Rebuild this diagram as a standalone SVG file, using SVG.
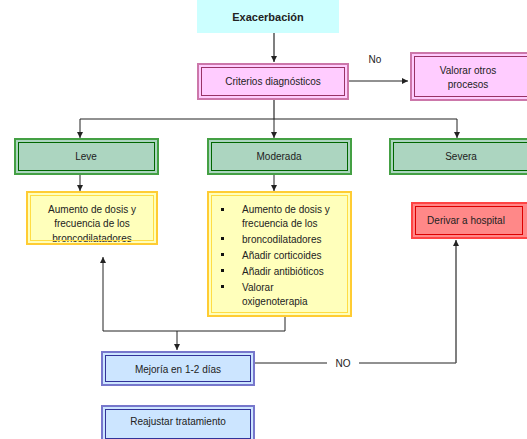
<svg xmlns="http://www.w3.org/2000/svg" width="527" height="439" viewBox="0 0 527 439">
<style>
text{font-family:"Liberation Sans",Arial,sans-serif;font-size:10px;fill:#222;}
.c{text-anchor:middle;}
.ln{fill:none;stroke:#222;stroke-width:1;}
.gl{fill:none;stroke:#555;stroke-width:1.5;}
.pinkO{fill:#ffccff;stroke:#cc77aa;stroke-width:2;}
.pinkI{fill:none;stroke:#993366;stroke-width:1;}
.grnO{fill:#acd5c0;stroke:#44a044;stroke-width:2;}
.grnI{fill:none;stroke:#006600;stroke-width:1;}
.yelO{fill:#ffffbb;stroke:#ffcc33;stroke-width:2;}
.yelI{fill:none;stroke:#ffdd44;stroke-width:1;}
.redO{fill:#ff8888;stroke:#ff4444;stroke-width:2;}
.redI{fill:none;stroke:#dd0000;stroke-width:1;}
.bluO{fill:#cce5ff;stroke:#7777cc;stroke-width:2;}
.bluI{fill:none;stroke:#333399;stroke-width:1;}
</style>
<defs>
<marker id="ah" viewBox="0 0 8 8" refX="8" refY="4" markerWidth="6" markerHeight="6" markerUnits="userSpaceOnUse" orient="auto">
<path d="M0,0 L8,4 L0,8 z" fill="#222"/>
</marker>
<clipPath id="clipLeve"><rect x="30" y="195" width="124" height="47"/></clipPath>
</defs>
<g id="connectors">
<line class="gl" x1="274" y1="33" x2="274" y2="62" marker-end="url(#ah)"/>
<line class="ln" x1="348" y1="81" x2="408" y2="81" marker-end="url(#ah)"/>
<text x="375" y="63" class="c">No</text>
<line class="gl" x1="274" y1="99" x2="274" y2="119"/>
<line class="ln" x1="80" y1="119" x2="457" y2="119"/>
<line class="ln" x1="80" y1="119" x2="80" y2="138" marker-end="url(#ah)"/>
<line class="ln" x1="274" y1="119" x2="274" y2="138" marker-end="url(#ah)"/>
<line class="ln" x1="457" y1="119" x2="457" y2="138" marker-end="url(#ah)"/>
<line class="ln" x1="80" y1="174" x2="80" y2="191" marker-end="url(#ah)"/>
<line class="ln" x1="274" y1="174" x2="274" y2="191" marker-end="url(#ah)"/>
<polyline class="ln" points="285,316 285,331 103,331 103,257" marker-end="url(#ah)"/>
<line class="ln" x1="177" y1="331" x2="177" y2="350" marker-end="url(#ah)"/>
<line class="ln" x1="254" y1="363" x2="327" y2="363"/>
<text x="343" y="367" class="c">NO</text>
<line class="ln" x1="359" y1="363" x2="456" y2="363"/>
<line class="gl" x1="456" y1="363" x2="456" y2="240" marker-end="url(#ah)"/>
</g>
<g id="exacerbacion">
<rect x="197" y="0" width="142" height="33" fill="#ccffff"/>
<text x="268" y="21" class="c" style="font-weight:bold;font-size:11px">Exacerbación</text>
</g>
<g id="criterios">
<rect class="pinkO" x="198" y="64" width="150" height="35"/>
<rect class="pinkI" x="201.5" y="67.5" width="143" height="28"/>
<text x="273" y="85" class="c">Criterios diagnósticos</text>
</g>
<g id="valorar">
<rect class="pinkO" x="411" y="53" width="120" height="47"/>
<rect class="pinkI" x="414.5" y="56.5" width="113" height="40"/>
<text x="468" y="74" class="c">Valorar otros</text>
<text x="468" y="88" class="c">procesos</text>
</g>
<g id="leve">
<rect class="grnO" x="15" y="139" width="143" height="35"/>
<rect class="grnI" x="18.5" y="142.5" width="136" height="28"/>
<text x="86" y="160" class="c">Leve</text>
</g>
<g id="moderada">
<rect class="grnO" x="208" y="139" width="143" height="35"/>
<rect class="grnI" x="211.5" y="142.5" width="136" height="28"/>
<text x="279" y="160" class="c">Moderada</text>
</g>
<g id="severa">
<rect class="grnO" x="390" y="139" width="142" height="35"/>
<rect class="grnI" x="393.5" y="142.5" width="135" height="28"/>
<text x="461" y="160" class="c">Severa</text>
</g>
<g id="leve-tratamiento">
<rect class="yelO" x="27" y="192" width="130" height="52"/>
<g clip-path="url(#clipLeve)">
<text x="92" y="213" class="c">Aumento de dosis y</text>
<text x="92" y="227" class="c">frecuencia de los</text>
<text x="92" y="242" class="c">broncodilatadores</text>
</g>
<rect class="yelI" x="30.5" y="195.5" width="123" height="45"/>
</g>
<g id="moderada-tratamiento">
<rect class="yelO" x="208" y="192" width="143" height="124"/>
<rect class="yelI" x="211.5" y="195.5" width="136" height="117"/>
<g fill="#111">
<rect x="221" y="208" width="3" height="3"/>
<rect x="221" y="237" width="3" height="3"/>
<rect x="221" y="253" width="3" height="3"/>
<rect x="221" y="269" width="3" height="3"/>
<rect x="221" y="285" width="3" height="3"/>
</g>
<text x="242" y="213">Aumento de dosis y</text>
<text x="242" y="227">frecuencia de los</text>
<text x="242" y="243">broncodilatadores</text>
<text x="242" y="259">Añadir corticoides</text>
<text x="242" y="275">Añadir antibióticos</text>
<text x="242" y="291">Valorar</text>
<text x="242" y="305">oxigenoterapia</text>
</g>
<g id="derivar">
<rect class="redO" x="412" y="203" width="117" height="35"/>
<rect class="redI" x="415.5" y="206.5" width="107" height="28"/>
<text x="466" y="224" class="c">Derivar a hospital</text>
</g>
<g id="mejoria">
<rect class="bluO" x="102" y="352" width="152" height="33"/>
<rect class="bluI" x="105.5" y="355.5" width="145" height="26"/>
<text x="178" y="373" class="c">Mejoría en 1-2 días</text>
</g>
<g id="reajustar">
<rect class="bluO" x="102" y="406" width="152" height="36"/>
<rect class="bluI" x="105.5" y="409.5" width="145" height="29"/>
<text x="178" y="425" class="c">Reajustar tratamiento</text>
</g>
</svg>
